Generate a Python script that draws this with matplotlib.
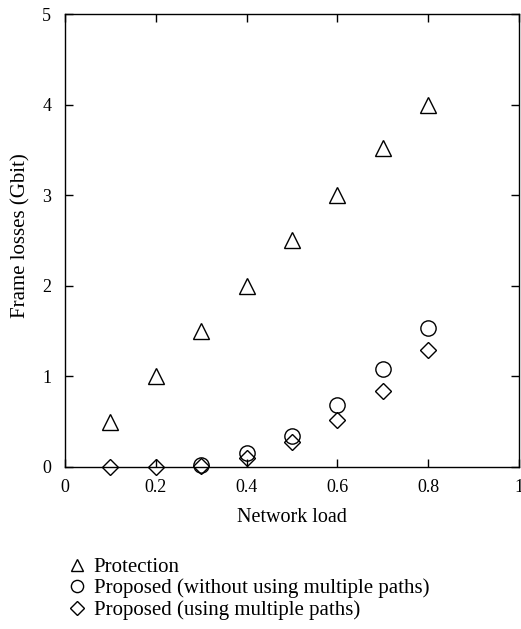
import matplotlib.pyplot as plt
import numpy as np

plt.rcParams['font.family'] = ['Liberation Serif', 'DejaVu Serif']

# data
load_prot = [0.1, 0.2, 0.3, 0.4, 0.5, 0.6, 0.7, 0.8]
loss_prot = [0.5, 1.0, 1.5, 2.0, 2.5, 3.0, 3.52, 4.0]

load_single = [0.3, 0.4, 0.5, 0.6, 0.7, 0.8]
loss_single = [0.02, 0.15, 0.34, 0.68, 1.08, 1.53]

load_multi = [0.1, 0.2, 0.3, 0.4, 0.5, 0.6, 0.7, 0.8]
loss_multi = [0.0, 0.0, 0.01, 0.1, 0.28, 0.52, 0.84, 1.29]

labels = ['Protection',
          'Proposed (without using multiple paths)',
          'Proposed (using multiple paths)']

fig = plt.figure(figsize=(5.21, 6.29), dpi=100)
ax = fig.add_axes([0.1248, 0.2576, 0.8712, 0.7201])

ax.plot(load_prot, loss_prot, linestyle='none', marker='^', markersize=11,
        markerfacecolor='none', markeredgecolor='black', markeredgewidth=1.0,
        label=labels[0], clip_on=False)
ax.plot(load_single, loss_single, linestyle='none', marker='o', markersize=11,
        markerfacecolor='none', markeredgecolor='black', markeredgewidth=1.0,
        label=labels[1], clip_on=False)
ax.plot(load_multi, loss_multi, linestyle='none', marker='D', markersize=8.5,
        markerfacecolor='none', markeredgecolor='black', markeredgewidth=1.0,
        label=labels[2], clip_on=False)

ax.set_xlim(0, 1)
ax.set_ylim(0, 5)
ax.set_xticks([0, 0.2, 0.4, 0.6, 0.8, 1])
ax.set_xticklabels(['0', '0.2', '0.4', '0.6', '0.8', '1'])
ax.set_yticks([0, 1, 2, 3, 4, 5])
ax.tick_params(direction='in', top=True, right=True, length=6, width=1,
               labelsize=13, colors='black')
ax.tick_params(axis='x', pad=9)
ax.tick_params(axis='y', pad=10)
for s in ax.spines.values():
    s.set_linewidth(1.0)

ax.set_xlabel('Network load', fontsize=14.5, labelpad=8)
ax.set_ylabel('Frame losses (Gbit)', fontsize=15)
ax.yaxis.set_label_coords(-0.075, 0.51)

fig.legend(loc='upper left', bbox_to_anchor=(0.11, 0.127), frameon=False,
           fontsize=15, handletextpad=0.25, labelspacing=0.08,
           markerscale=0.8, handlelength=1.1, borderaxespad=0)

fig.savefig('out.png', dpi=100)
